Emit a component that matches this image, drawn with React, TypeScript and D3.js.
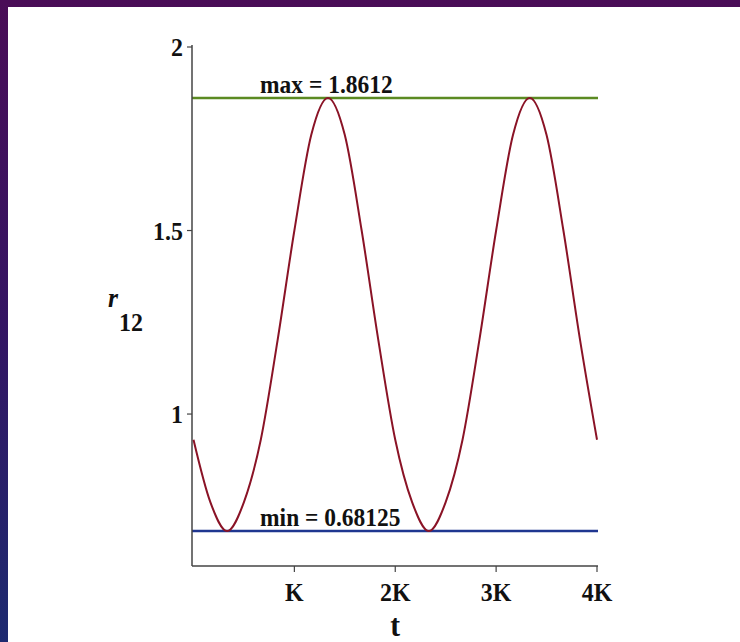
import React from "react";
import * as d3 from "d3";

// Time in units of the quarter period K
const tK = [
  0, 0.167, 0.333, 0.5, 0.667, 0.833, 1, 1.167, 1.333, 1.5, 1.667, 1.833, 2,
  2.167, 2.333, 2.5, 2.667, 2.833, 3, 3.167, 3.333, 3.5, 3.667, 3.833, 4,
];
// Separation r12 at each time
const r12 = [
  0.93, 0.76, 0.68125, 0.76, 0.93, 1.2, 1.5, 1.76, 1.8612, 1.76, 1.5, 1.2,
  0.93, 0.76, 0.68125, 0.76, 0.93, 1.2, 1.5, 1.76, 1.8612, 1.76, 1.5, 1.2,
  0.93,
];

const xTicks = [1, 2, 3, 4];
const xTickLabels = ["K", "2K", "3K", "4K"];
const yTicks = [1, 1.5, 2];
const yTickLabels = ["1", "1.5", "2"];

const maxValue = 1.8612;
const minValue = 0.68125;
const annotationAt = 0.66;

const W = 740;
const H = 642;
const FONT = "'Liberation Serif', 'Times New Roman', serif";

// Bold serif label, slightly condensed horizontally
function Label(props: {
  x: number;
  y: number;
  size: number;
  anchor?: "start" | "middle" | "end";
  italic?: boolean;
  dy?: string;
  children: React.ReactNode;
}) {
  const { x, y, size, anchor = "start", italic = false, dy, children } = props;
  return (
    <g transform={`translate(${x},${y}) scale(0.92,1)`}>
      <text
        x={0}
        y={0}
        dy={dy}
        textAnchor={anchor}
        fontSize={size}
        fontWeight="bold"
        fontStyle={italic ? "italic" : "normal"}
        fill="#111"
      >
        {children}
      </text>
    </g>
  );
}

export default function App() {
  const x = d3.scaleLinear().domain([0, 4]).range([193.5, 597]);
  const y = d3.scaleLinear().domain([0.586, 2]).range([566, 47]);

  const points = tK.map((t, i) => [t, r12[i]] as [number, number]);
  const line = d3
    .line<[number, number]>()
    .x((d) => x(d[0]))
    .y((d) => y(d[1]))
    .curve(d3.curveMonotoneX);

  const axisLeft = 192;
  const axisRight = 598;
  const axisTop = 45;
  const axisBottom = 566;

  return (
    <svg
      width={W}
      height={H}
      style={{ position: "fixed", left: 0, top: 0, display: "block" }}
      fontFamily={FONT}
    >
      <defs>
        <linearGradient id="frame" x1="0" y1="0" x2="0" y2="1">
          <stop offset="0" stopColor="#4a0d57" />
          <stop offset="0.5" stopColor="#341563" />
          <stop offset="1" stopColor="#1d2a70" />
        </linearGradient>
      </defs>
      <rect x={0} y={0} width={W} height={H} fill="url(#frame)" />
      <rect x={8} y={7} width={W - 8} height={H - 7} fill="#ffffff" />

      {/* reference lines at the extreme values */}
      <line
        x1={axisLeft}
        x2={axisRight}
        y1={y(maxValue)}
        y2={y(maxValue)}
        stroke="#5b8a22"
        strokeWidth={2.5}
      />
      <line
        x1={axisLeft}
        x2={axisRight}
        y1={y(minValue)}
        y2={y(minValue)}
        stroke="#1f3690"
        strokeWidth={2.5}
      />

      {/* axes */}
      <line x1={axisLeft} x2={axisLeft} y1={axisTop} y2={axisBottom} stroke="#444" strokeWidth={1.5} />
      <line x1={axisLeft} x2={axisRight} y1={axisBottom} y2={axisBottom} stroke="#444" strokeWidth={1.5} />

      {yTicks.map((v, i) => (
        <g key={"y" + v}>
          <line x1={axisLeft - 5} x2={axisLeft} y1={y(v)} y2={y(v)} stroke="#444" strokeWidth={1.2} />
          <Label x={axisLeft - 9} y={y(v)} dy="0.35em" anchor="end" size={26}>
            {yTickLabels[i]}
          </Label>
        </g>
      ))}

      {xTicks.map((v, i) => (
        <g key={"x" + v}>
          <line x1={x(v)} x2={x(v)} y1={axisBottom} y2={axisBottom + 6} stroke="#444" strokeWidth={1.2} />
          <Label x={x(v)} y={601} anchor="middle" size={26}>
            {xTickLabels[i]}
          </Label>
        </g>
      ))}

      {/* axis titles */}
      <Label x={x(2)} y={636} anchor="middle" size={32}>
        t
      </Label>
      <Label x={108} y={307} size={28} italic>
        r
      </Label>
      <Label x={119} y={331} size={26}>
        12
      </Label>

      {/* r12(t) curve */}
      <path d={line(points) ?? ""} fill="none" stroke="#8a1326" strokeWidth={2} />

      {/* extreme value annotations */}
      <Label x={x(annotationAt)} y={y(maxValue) - 5} size={25.5}>
        {`max = ${maxValue}`}
      </Label>
      <Label x={x(annotationAt)} y={y(minValue) - 5} size={25.5}>
        {`min = ${minValue}`}
      </Label>
    </svg>
  );
}
